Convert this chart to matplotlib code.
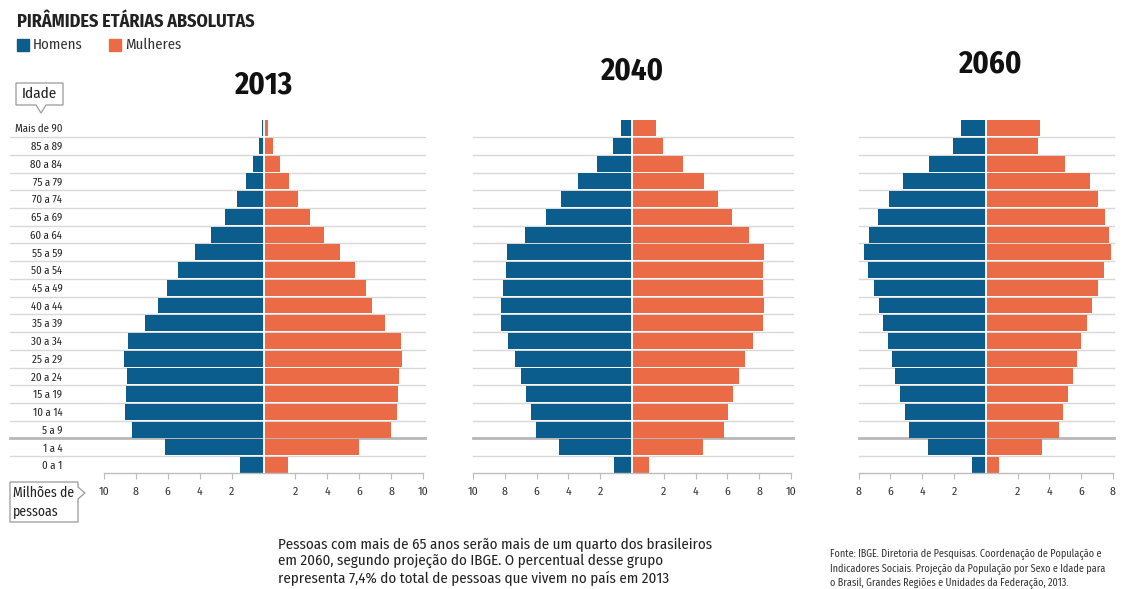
import matplotlib
matplotlib.use("Agg")
import matplotlib.pyplot as plt
from matplotlib import font_manager
from matplotlib.patches import Polygon

# condensed face, like the newspaper original
nomes = {f.name for f in font_manager.fontManager.ttflist}
fonte = 'DejaVu Sans'
for cand in ['Fira Sans Condensed', 'Roboto Condensed', 'IBM Plex Sans Condensed',
             'Open Sans Condensed', 'Liberation Sans Narrow']:
    if cand in nomes:
        fonte = cand
        break
plt.rcParams['font.family'] = [fonte, 'DejaVu Sans']

# age groups, bottom to top
idades = ['0 a 1', '1 a 4', '5 a 9', '10 a 14', '15 a 19', '20 a 24', '25 a 29',
          '30 a 34', '35 a 39', '40 a 44', '45 a 49', '50 a 54', '55 a 59',
          '60 a 64', '65 a 69', '70 a 74', '75 a 79', '80 a 84', '85 a 89',
          'Mais de 90']

# millions of people
homens_2013 = [1.49, 6.2, 8.24, 8.68, 8.64, 8.57, 8.74, 8.51, 7.44, 6.62,
               6.08, 5.35, 4.32, 3.31, 2.39, 1.66, 1.1, 0.63, 0.3, 0.1]
mulheres_2013 = [1.51, 5.97, 7.97, 8.39, 8.45, 8.49, 8.7, 8.6, 7.61, 6.83,
                 6.44, 5.72, 4.78, 3.82, 2.9, 2.14, 1.57, 1.05, 0.6, 0.3]

homens_2040 = [1.13, 4.6, 6.05, 6.34, 6.65, 6.99, 7.36, 7.8, 8.26, 8.26,
               8.1, 7.95, 7.85, 6.72, 5.44, 4.48, 3.37, 2.18, 1.17, 0.67]
mulheres_2040 = [1.07, 4.46, 5.79, 6.05, 6.38, 6.74, 7.13, 7.64, 8.22, 8.31,
                 8.26, 8.26, 8.33, 7.34, 6.26, 5.42, 4.5, 3.2, 1.95, 1.49]

homens_2060 = [0.86, 3.65, 4.8, 5.09, 5.39, 5.68, 5.91, 6.14, 6.44, 6.71,
               7.02, 7.38, 7.63, 7.34, 6.79, 6.08, 5.22, 3.56, 2.08, 1.57]
mulheres_2060 = [0.86, 3.54, 4.61, 4.88, 5.18, 5.47, 5.74, 5.97, 6.35, 6.69,
                 7.04, 7.44, 7.86, 7.74, 7.48, 7.06, 6.56, 4.99, 3.31, 3.42]

anos = ['2013', '2040', '2060']
limites = [10, 10, 8]

AZUL = '#0b5d8e'
LARANJA = '#ec6b47'
W, H = 1129, 589

fig = plt.figure(figsize=(W / 100, H / 100), dpi=100)


def fx(px):
    return px / W


def fy(py):
    return 1 - py / H


# axes boxes in pixels: left, right
caixas = [(104, 423), (473, 791), (858.5, 1113)]
topo, base = 119.4, 473
titulos_pos = [(263, 85), (632, 71), (990, 64)]
dados = [(homens_2013, mulheres_2013), (homens_2040, mulheres_2040),
         (homens_2060, mulheres_2060)]

y = list(range(len(idades)))

for k, ((l, r), (h, m), lim) in enumerate(zip(caixas, dados, limites)):
    ax = fig.add_axes([fx(l), fy(base), fx(r - l), (base - topo) / H])
    ax.barh(y, [-v for v in h], height=0.9, color=AZUL, zorder=2)
    ax.barh(y, m, height=0.9, color=LARANJA, zorder=2)
    ax.axvline(0, color='white', lw=1.3, zorder=3)
    ax.set_xlim(-lim, lim)
    ax.set_ylim(-0.45, len(idades) - 0.5)

    # separator lines between age rows
    x0 = (10 - l) / (r - l) if k == 0 else 0
    for i in range(len(idades) - 1):
        lw = 2.0 if i == 1 else 1.0
        cor = '#b8b8b8' if i == 1 else '#d8d8d8'
        ax.plot([x0, 1.005], [i + 0.5, i + 0.5], color=cor, lw=lw, zorder=0,
                transform=ax.get_yaxis_transform(), clip_on=False)

    for s in ['top', 'right', 'left']:
        ax.spines[s].set_visible(False)
    ax.spines['bottom'].set_color('#bdbdbd')
    ax.spines['bottom'].set_linewidth(1)

    ticks = [t for t in range(-lim, lim + 1, 2) if t != 0]
    ax.set_xticks(ticks)
    ax.set_xticklabels([str(abs(t)) for t in ticks], fontsize=8.5,
                       color='#333333')
    ax.tick_params(axis='x', length=4, width=0.8, color='#bdbdbd', pad=6)

    if k == 0:
        ax.set_yticks(y)
        ax.set_yticklabels(idades, fontsize=7.8, color='#222222')
        ax.tick_params(axis='y', length=0, pad=30)
    else:
        ax.set_yticks([])

    tx, ty = titulos_pos[k]
    fig.text(fx(tx), fy(ty), anos[k], fontsize=22, fontweight='bold',
             ha='center', va='center', color='#111111')

# heading and legend
fig.text(fx(17), fy(22), 'PIRÂMIDES ETÁRIAS ABSOLUTAS', fontsize=13,
         fontweight='bold', ha='left', va='center', color='#222222')
fig.patches.append(plt.Rectangle((fx(17), fy(51)), fx(12), 12 / H,
                                 transform=fig.transFigure, color=AZUL))
fig.text(fx(33), fy(45), 'Homens', fontsize=10.7, ha='left', va='center',
         color='#333333')
fig.patches.append(plt.Rectangle((fx(109), fy(51)), fx(12), 12 / H,
                                 transform=fig.transFigure, color=LARANJA))
fig.text(fx(125), fy(45), 'Mulheres', fontsize=10.7, ha='left', va='center',
         color='#333333')

# "Idade" callout
idade_pts = [(16, 83), (63, 83), (63, 105), (46, 105), (41, 113), (36, 105),
             (16, 105)]
fig.patches.append(Polygon([(fx(a), fy(b)) for a, b in idade_pts], closed=True,
                           transform=fig.transFigure, facecolor='white',
                           edgecolor='#999999', lw=0.9))
fig.text(fx(39.5), fy(94), 'Idade', fontsize=11, ha='center', va='center',
         color='#222222')

# "Milhões de pessoas" callout
mil_pts = [(10, 482), (78, 482), (78, 487), (85, 493), (78, 499), (78, 522),
           (10, 522)]
fig.patches.append(Polygon([(fx(a), fy(b)) for a, b in mil_pts], closed=True,
                           transform=fig.transFigure, facecolor='white',
                           edgecolor='#999999', lw=0.9))
fig.text(fx(13), fy(502), 'Milhões de\npessoas', fontsize=9.9, ha='left',
         va='center', color='#222222', linespacing=1.3)

# notes
fig.text(fx(278), fy(561),
         'Pessoas com mais de 65 anos serão mais de um quarto dos brasileiros\n'
         'em 2060, segundo projeção do IBGE. O percentual desse grupo\n'
         'representa 7,4% do total de pessoas que vivem no país em 2013',
         fontsize=10.8, ha='left', va='center', color='#222222',
         linespacing=1.15)
fig.text(fx(830), fy(569),
         'Fonte: IBGE. Diretoria de Pesquisas. Coordenação de População e\n'
         'Indicadores Sociais. Projeção da População por Sexo e Idade para\n'
         'o Brasil, Grandes Regiões e Unidades da Federação, 2013.',
         fontsize=7.3, ha='left', va='center', color='#333333',
         linespacing=1.35)

fig.savefig('out.png', dpi=100, facecolor='white')
